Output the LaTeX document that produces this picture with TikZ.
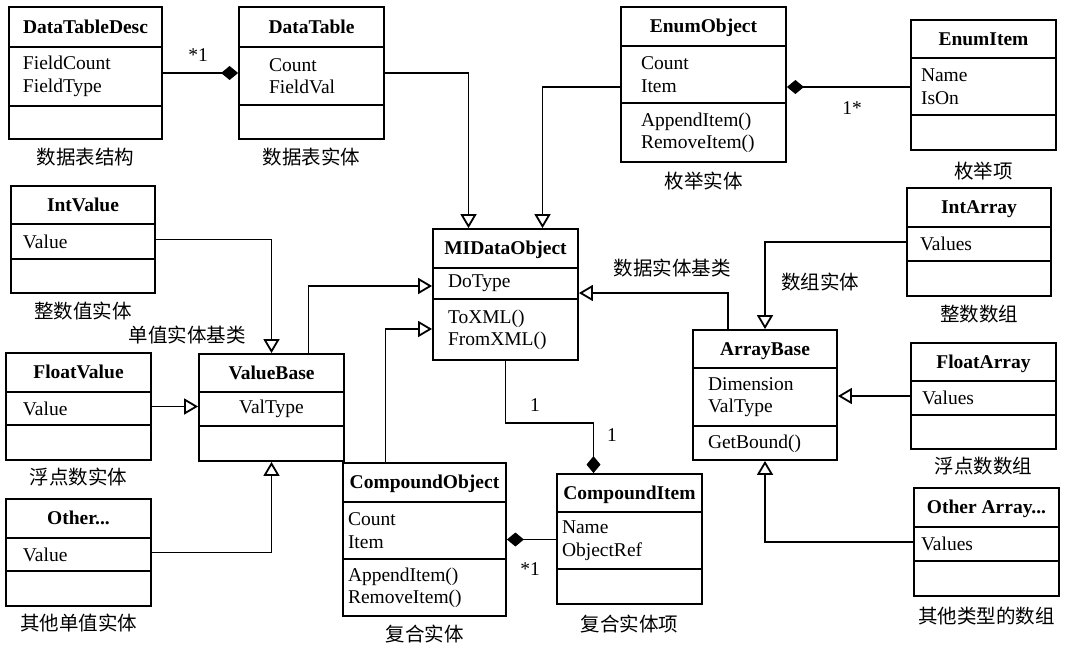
\documentclass[tikz,border=0pt]{standalone}
\usepackage{fontspec}
\setmainfont{Liberation Serif}
\newfontfamily\cjk{Noto Sans CJK SC}
\usetikzlibrary{arrows.meta,calc,fit,positioning}
\newcommand{\diagfont}{\fontsize{19.5}{22.5}\selectfont}
\newcommand{\umlclass}[9]{%
  \coordinate (#1-nw) at (#2);
  \coordinate (#1-se) at (#3);
  \node[classbox, fit=(#1-nw)(#1-se)] (#1) {};
  \draw (#1.west |- 0,#4) -- (#1.east |- 0,#4);
  \draw (#1.west |- 0,#5) -- (#1.east |- 0,#5);
  \path (#1.north) -- (#1.north |- 0,#4) node[midway, classname] {#6};
  \path (#1.west |- 0,#4) -- (#1.west |- 0,#5) node[midway, members, xshift=#7pt] {#8};
  \path (#1.west |- 0,#5) -- (#1.south west) node[midway, members, xshift=#7pt] {#9};
}

\begin{document}
\begin{tikzpicture}[x=1pt, y=-1pt, line width=1.8pt, font=\diagfont,
  classbox/.style={draw, inner sep=0pt},
  classname/.style={font=\diagfont\bfseries, inner sep=0pt, text height=13pt, text depth=0pt},
  members/.style={anchor=west, align=left, inner sep=0pt},
  caption/.style={font=\diagfont\cjk, inner sep=0pt},
  mult/.style={inner sep=0pt},
  gen/.style={-{Triangle[open, length=14pt, width=16pt]}},
  comp/.style={-{Diamond[length=17pt, width=14pt]}},
  owner/.style={{Diamond[length=17pt, width=14pt]}-}]
  \useasboundingbox (0,0) rectangle (1068,648);

  \umlclass{dtdesc}{9,7}{162,139}{47}{106}{DataTableDesc}{14}{FieldCount\\FieldType}{}
  \umlclass{dtable}{239,7}{384,139}{47}{105}{DataTable}{30}{Count\\FieldVal}{}
  \umlclass{enumobj}{621,7}{786,162}{46}{103}{EnumObject}{20}{Count\\Item}{AppendItem()\\RemoveItem()}
  \umlclass{enumitem}{911,20}{1056,150}{58}{115}{EnumItem}{10}{Name\\IsOn}{}
  \umlclass{intval}{11,186}{155,293}{224}{259}{IntValue}{12}{Value}{}
  \umlclass{floatval}{6,353}{151,460}{392}{425}{FloatValue}{17}{Value}{}
  \umlclass{otherval}{6,499}{151,606}{538}{571}{Other...}{17}{Value}{}
  \umlclass{valbase}{199,354}{344,461}{392}{426}{ValueBase}{0}{}{}
  \umlclass{mido}{433,229}{578,360}{268}{299}{MIDataObject}{15}{DoType}{ToXML()\\FromXML()}
  \umlclass{compobj}{343,463}{506,616}{502}{559}{CompoundObject}{5}{Count\\Item}{AppendItem()\\RemoveItem()}
  \umlclass{compitem}{557,474}{702,604}{512}{569}{CompoundItem}{5}{Name\\ObjectRef}{}
  \umlclass{arrbase}{693,330}{837,460}{368}{426}{ArrayBase}{15}{Dimension\\ValType}{GetBound()}
  \umlclass{intarr}{907,188}{1051,296}{227}{261}{IntArray}{13}{Values}{}
  \umlclass{floatarr}{911,343}{1056,449}{381}{415}{FloatArray}{11}{Values}{}
  \umlclass{otherarr}{914,488}{1059,596}{527}{561}{Other Array...}{7}{Values}{}
  \path (valbase.west |- 0,392) -- (valbase.east |- 0,426) node[midway, inner sep=0pt] (valtype) {ValType};

  \node[caption, below=7pt of dtdesc] (dtdesc-cap) {数据表结构};
  \node[caption, below=7pt of dtable] (dtable-cap) {数据表实体};
  \node[caption, below=8pt of enumobj] (enumobj-cap) {枚举实体};
  \node[caption, below=10pt of enumitem] (enumitem-cap) {枚举项};
  \node[caption, below=7pt of intval] (intval-cap) {整数值实体};
  \node[caption, below=6pt of floatval] (floatval-cap) {浮点数实体};
  \node[caption, below=6pt of otherval] (otherval-cap) {其他单值实体};
  \node[caption, below=7pt of compobj] (compobj-cap) {复合实体};
  \node[caption, below=9pt of compitem] (compitem-cap) {复合实体项};
  \node[caption, below=7pt of intarr] (intarr-cap) {整数数组};
  \node[caption, below=6pt of floatarr] (floatarr-cap) {浮点数数组};
  \node[caption, below=9pt of otherarr] (otherarr-cap) {其他类型的数组};
  \node[caption] (valbase-cap) at (187,335) {单值实体基类};
  \node[caption] (mido-cap) at (672,268) {数据实体基类};
  \node[caption] (arrbase-cap) at (820,282) {数组实体};

  \draw[comp] (dtdesc.east) -- (dtable.west);
  \node[mult] (m-dt) at (198,55) {*1};
  \draw[gen] (dtable.east) -| ($(mido.north)+(-37,0)$);
  \draw[gen] (enumobj.west |- 0,87) -| ($(mido.north)+(37,0)$);
  \draw[owner] (enumobj.east |- 0,87) -- (enumitem.west |- 0,87);
  \node[mult] (m-enum) at (852,108) {1*};
  \draw[gen] (intval.east) -| (valbase.north);
  \draw[gen] (floatval.east) -- (floatval.east -| valbase.west);
  \draw[gen] (otherval.east) -| (valbase.south);
  \draw[gen] ($(valbase.north)+(37,0)$) |- (mido.west |- 0,286);
  \draw[gen] ($(compobj.north)+(-39,0)$) |- (mido.west |- 0,329);
  \draw[gen] ($(arrbase.north)+(-37,0)$) |- (mido.east |- 0,293);
  \draw[gen] (intarr.west) -| (arrbase.north);
  \draw[gen] (floatarr.west) -- (floatarr.west -| arrbase.east);
  \draw[gen] (otherarr.west) -| (arrbase.south);
  \draw[comp] (mido.south) -- ++(0,62) -| ($(compitem.north)+(-36,0)$);
  \node[mult] (m-mido) at (535,405) {1};
  \node[mult] (m-item) at (612,435) {1};
  \draw[owner] (compobj.east) -- (compobj.east -| compitem.west);
  \node[mult] (m-comp) at (530,569) {*1};
\end{tikzpicture}
\end{document}
